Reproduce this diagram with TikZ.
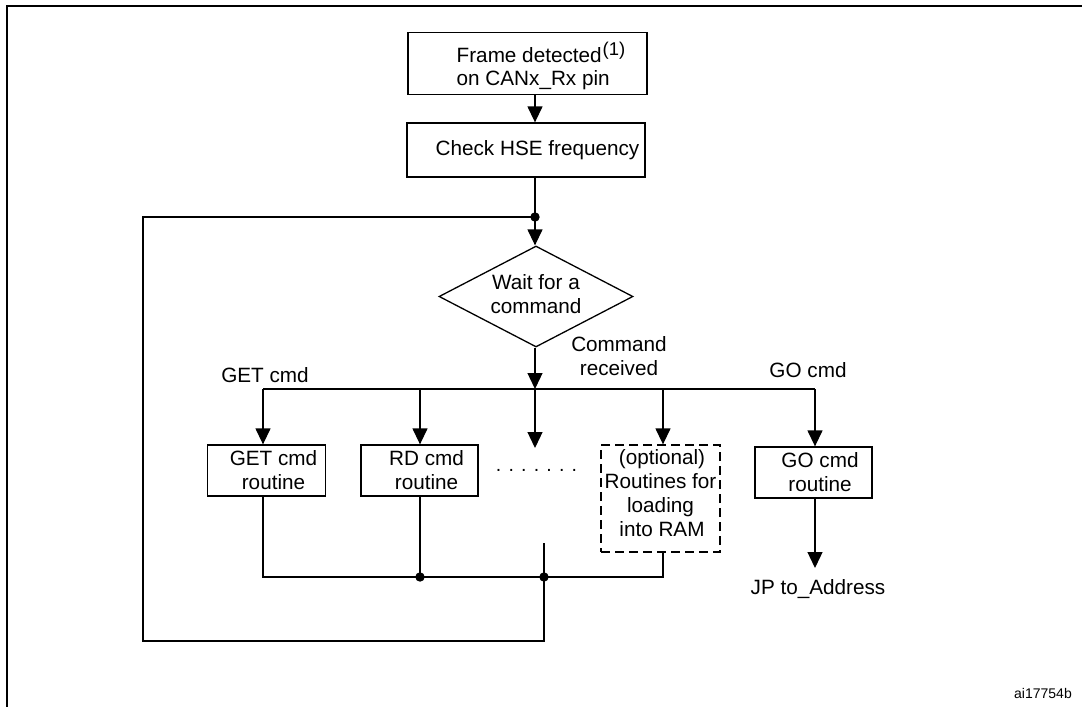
\documentclass[tikz,border=0pt]{standalone}
\usepackage{fontspec}
\setmainfont{Liberation Sans}
\usetikzlibrary{arrows.meta,shapes.geometric}
\newcommand{\mainsz}{\fontsize{20.7}{24}\selectfont}
\begin{document}
\begin{tikzpicture}[x=1pt,y=-1pt,
  ln/.style={line width=1.3pt},
  arr/.style={ln,-{Triangle[length=16pt,width=15pt]}},
  box/.style={draw,line width=1.3pt,inner sep=0pt,font=\mainsz},
  lbl/.style={inner sep=0pt,font=\mainsz},
  jdot/.style={fill=black}]
\useasboundingbox (0,0) rectangle (1082,707);
% outer frame
\draw[line width=2.5pt] (7,707) -- (7,6) -- (1082,6);

\coordinate (col) at (535,0);
% top boxes
\node[box,minimum width=239pt,minimum height=62pt] (frame) at (527.5,63.5) {};
\node[lbl,anchor=base west] (frametxtA) at (456.5,62.5) {Frame detected\kern1pt\raisebox{7.5pt}{\fontsize{18.5}{18.5}\selectfont(1)}};
\node[lbl,anchor=base west] (frametxtB) at (456.5,85.7) {on CANx\_Rx pin};
\node[box,minimum width=238pt,minimum height=54pt] (hse) at (526,150) {\hspace*{23pt}Check HSE frequency};

% decision
\node[draw,diamond,aspect=2,line width=1.3pt,inner sep=0pt,minimum width=194pt,minimum height=101pt,
      align=center,font=\mainsz,text depth=6pt] (wait) at (536,296.5) {Wait for a\\command};

\coordinate (jtop) at (535,217);
\draw[arr] (frame.south -| col) -- (hse.north -| col);
\draw[ln] (hse.south -| col) -- (jtop);
\draw[arr] (jtop) -- (wait.north -| col);

% bus
\coordinate (bus) at (535,389);
\coordinate (bGet) at (263,389);
\coordinate (bRd) at (420,389);
\coordinate (bOpt) at (663,389);
\coordinate (bGo) at (815,389);
\coordinate (free) at (535,448);
\draw[arr] (wait.south -| col) -- (bus);
\draw[ln] (bGet) -- (bGo);

\node[lbl,anchor=base] (getlbl) at (265,382) {GET cmd};
\node[lbl,anchor=base] (golbl) at (808,377) {GO cmd};
\node[lbl,align=center] (cmdrec) at (619,356.4) {Command\\received};

% routine boxes
\node[box,minimum width=118pt,minimum height=51pt,align=center] (get) at (266.5,470.5)
  {\hspace*{14pt}GET cmd\\\hspace*{14pt}routine};
\node[box,minimum width=117pt,minimum height=51pt,align=center] (rd) at (419.5,470.5)
  {\hspace*{14pt}RD cmd\\\hspace*{14pt}routine};
\node[box,dash pattern=on 9pt off 5pt,minimum width=119pt,minimum height=107pt,align=center,text depth=10.3pt] (opt) at (660.5,498.5)
  {\hspace*{3pt}(optional)\\Routines for\\loading\\\hspace*{3pt}into RAM};
\node[box,minimum width=117pt,minimum height=51pt,align=center] (go) at (813.5,472.5)
  {\hspace*{13pt}GO cmd\\\hspace*{13pt}routine};
\node[lbl,anchor=base,font=\fontsize{19.5}{20}\selectfont] (dots) at (536.5,471) {. . . . . . .};

\draw[arr] (bGet) -- (get.north -| bGet);
\draw[arr] (bRd) -- (rd.north -| bRd);
\draw[arr] (bus) -- (free);
\draw[arr] (bOpt) -- (opt.north -| bOpt);
\draw[arr] (bGo) -- (go.north -| bGo);

% merge and loop back
\coordinate (m1) at (420,577);
\coordinate (m2) at (544,577);
\coordinate (mtop) at (544,543);
\coordinate (lb) at (143,641);
\draw[ln] (get.south -| bGet) |- (m2) -| (opt.south -| bOpt);
\draw[ln] (rd.south -| bRd) -- (m1);
\draw[ln] (mtop) |- (lb) |- (jtop);
\fill[jdot] (jtop) circle[radius=4.7pt];
\fill[jdot] (m1) circle[radius=4.7pt];
\fill[jdot] (m2) circle[radius=4.7pt];

% GO exit
\coordinate (jptip) at (815,568);
\draw[arr] (go.south -| bGo) -- (jptip);
\node[lbl,anchor=base] (jp) at (818,594) {JP to\_Address};

\node[lbl,anchor=base east,font=\fontsize{14}{16}\selectfont] (code) at (1072,698) {ai17754b};
\end{tikzpicture}
\end{document}
